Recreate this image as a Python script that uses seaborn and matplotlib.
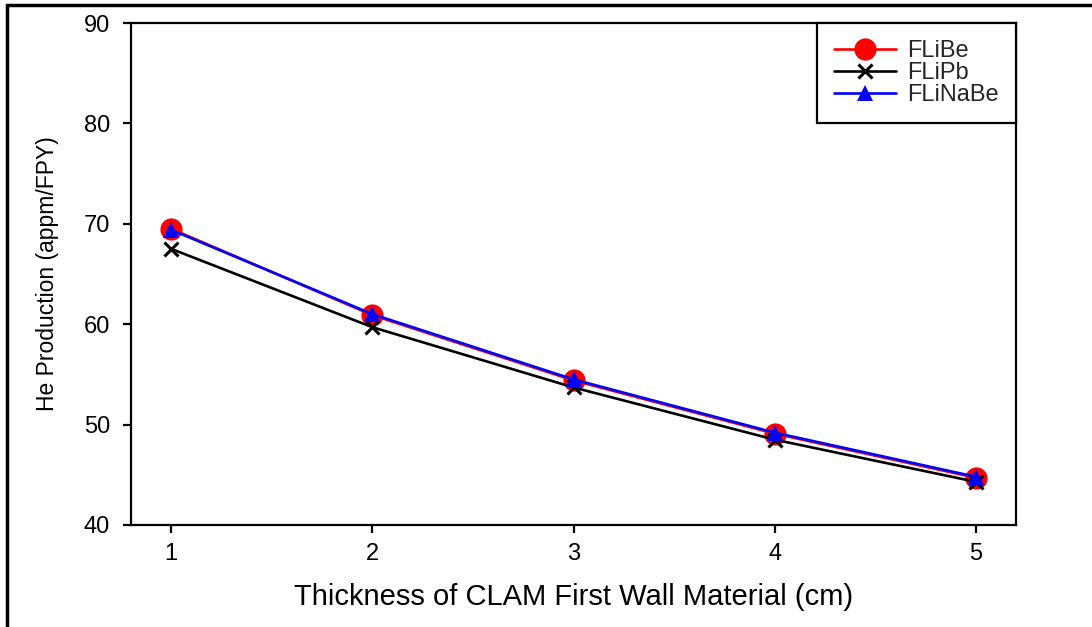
import matplotlib
matplotlib.use("Agg")
import matplotlib.pyplot as plt
import seaborn as sns
import pandas as pd
from matplotlib.patches import Rectangle

# Wall thickness (cm) and helium production (appm/FPY) per coolant
thickness = [1, 2, 3, 4, 5]
flibe = [69.5, 60.9, 54.4, 49.1, 44.7]
flipb = [67.5, 59.7, 53.7, 48.5, 44.3]
flinabe = [69.4, 61.0, 54.5, 49.2, 44.8]

series_names = ["FLiBe", "FLiPb", "FLiNaBe"]
x_ticks = [1, 2, 3, 4, 5]
y_ticks = [40, 50, 60, 70, 80, 90]

sns.set_theme(style="white")
plt.rcParams["font.family"] = ["Liberation Sans", "DejaVu Sans"]

fig = plt.figure(figsize=(10.92, 6.27), dpi=100)
ax = fig.add_axes([0.1200, 0.1627, 0.8104, 0.8006])

styles = {
    "FLiBe": dict(color="#ff0000", marker="o", markersize=16,
                  markeredgewidth=0, markeredgecolor="#ff0000"),
    "FLiPb": dict(color="#000000", marker="x", markersize=10.5,
                  markeredgewidth=2.2, markeredgecolor="#000000"),
    "FLiNaBe": dict(color="#0000ff", marker="^", markersize=12,
                    markeredgewidth=0, markeredgecolor="#0000ff"),
}

df = pd.DataFrame({"thickness": thickness, "FLiBe": flibe,
                   "FLiPb": flipb, "FLiNaBe": flinabe})

for name in series_names:
    sns.lineplot(data=df, x="thickness", y=name, ax=ax, label=name,
                 linewidth=1.9, **styles[name])

ax.set_xlim(0.8, 5.2)
ax.set_ylim(40, 90)
ax.set_xticks(x_ticks)
ax.set_yticks(y_ticks)
ax.set_xticklabels([str(t) for t in x_ticks])
ax.set_yticklabels([str(t) for t in y_ticks])

for side in ["left", "bottom", "top", "right"]:
    ax.spines[side].set_visible(True)
    ax.spines[side].set_color("black")
    ax.spines[side].set_linewidth(1.6)

ax.tick_params(axis="x", direction="out", length=6, width=1.6, pad=7,
               labelsize=17, colors="black", bottom=True)
ax.tick_params(axis="y", direction="out", length=6, width=1.6, pad=9,
               labelsize=17, colors="black", left=True)

ax.set_xlabel("Thickness of CLAM First Wall Material (cm)", fontsize=21,
              color="black", labelpad=13)
ax.set_ylabel("He Production (appm/FPY)", fontsize=16.5, color="black",
              labelpad=18)

leg = ax.legend(loc="upper right", borderaxespad=0, fontsize=17,
                frameon=True, fancybox=False, edgecolor="black",
                handlelength=2.6, handletextpad=0.5, labelspacing=0.0,
                borderpad=0.72)
leg.get_frame().set_linewidth(1.6)
leg.get_frame().set_facecolor("white")
leg.get_frame().set_alpha(1)

# Frame around the whole figure (left and top edges visible)
fig.patches.append(Rectangle((7 / 1092, -0.05), 1.2, 1 - 5 / 627 + 0.05,
                             transform=fig.transFigure, fill=False,
                             edgecolor="black", linewidth=2.5))

fig.savefig("out.png", dpi=100)
